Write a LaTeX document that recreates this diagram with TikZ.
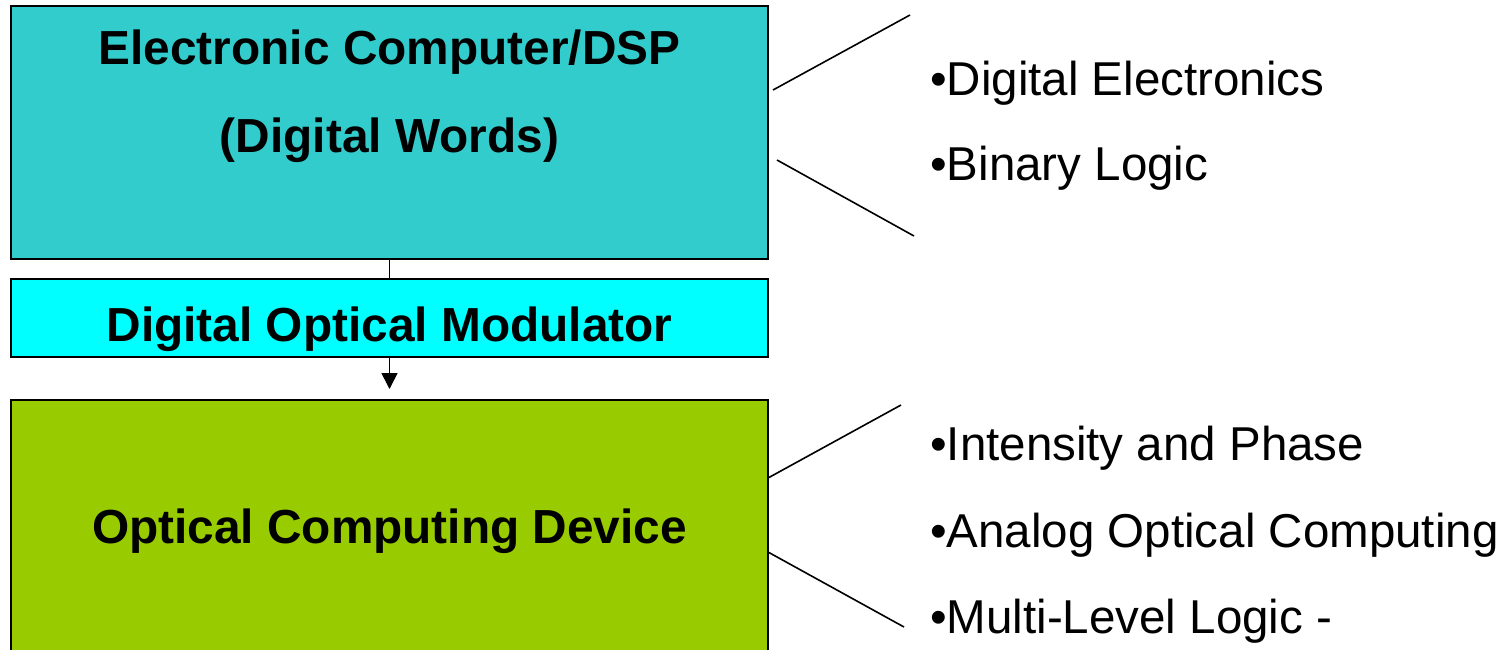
\documentclass[tikz,border=0pt]{standalone}
\usepackage{fontspec}
\setmainfont{Liberation Sans}
\usetikzlibrary{arrows.meta}
\definecolor{tealbox}{HTML}{33CCCC}
\definecolor{cyanbox}{HTML}{00FFFF}
\definecolor{greenbox}{HTML}{99CC00}
\tikzset{
  boxnode/.style={draw=black, line width=2pt, inner sep=0pt, minimum width=757pt},
  titletext/.style={anchor=base, inner sep=0pt, font=\fontsize{47.8}{50}\selectfont\bfseries},
  itemtext/.style={anchor=base west, inner sep=0pt, font=\fontsize{47.5}{50}\selectfont},
  linkline/.style={line width=1.6pt},
}
\begin{document}
\begin{tikzpicture}[x=1pt,y=-1pt]
\useasboundingbox (0,0) rectangle (1506,649);
\clip (0,0) rectangle (1506,649);
% boxes
\node[boxnode, fill=tealbox, minimum height=253pt] (ecd) at (389.5,132.5) {};
\node[boxnode, fill=cyanbox, minimum height=78pt] (dom) at (389.5,318) {};
\node[boxnode, fill=greenbox, minimum height=260pt] (ocd) at (389.5,530) {};
% box texts
\node[titletext] (ecdt1) at (389.5,64) {Electronic Computer/DSP};
\node[titletext] (ecdt2) at (389.5,152) {(Digital Words)};
\node[titletext] (domt) at (389.5,341) {Digital Optical Modulator};
\node[titletext] (ocdt) at (389.5,543) {Optical Computing Device};
% connectors between boxes
\draw[linkline] (ecd.south) -- (dom.north);
\draw[linkline, -{Triangle[length=16pt,width=16pt]}, shorten >=10pt] (dom.south) -- (ocd.north);
% bracket lines
\coordinate (a1) at (773,90);
\coordinate (a2) at (910,15);
\coordinate (b1) at (777,160);
\coordinate (b2) at (914,236);
\coordinate (c1) at (768,478);
\coordinate (c2) at (901,405);
\coordinate (d1) at (768,552);
\coordinate (d2) at (904,627);
\draw[linkline] (a1) -- (a2);
\draw[linkline] (b1) -- (b2);
\draw[linkline] (c1) -- (c2);
\draw[linkline] (d1) -- (d2);
% item texts
\node[itemtext] (i1) at (930,95) {•Digital Electronics};
\node[itemtext] (i2) at (930,180) {•Binary Logic};
\node[itemtext] (i3) at (930,460) {•Intensity and Phase};
\node[itemtext] (i4) at (930,547) {•Analog Optical Computing};
\node[itemtext] (i5) at (930,633) {•Multi-Level Logic -};
\end{tikzpicture}
\end{document}
